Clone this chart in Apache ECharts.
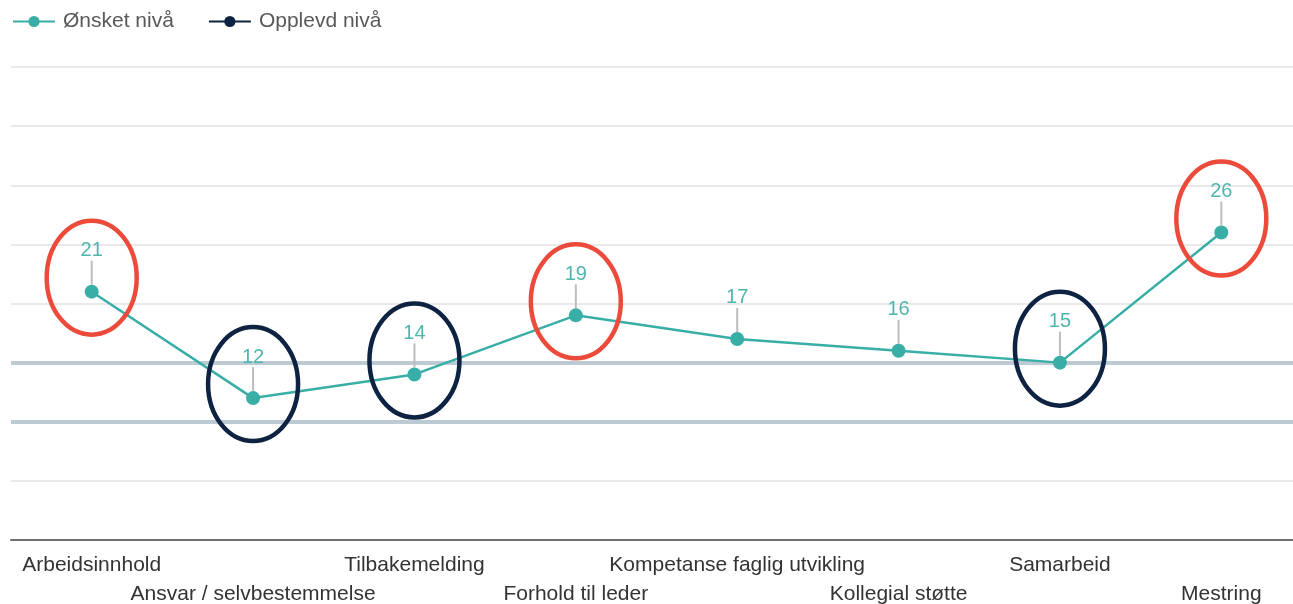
<!DOCTYPE html>
<html>
<head>
<meta charset="utf-8">
<script src="https://cdn.jsdelivr.net/npm/echarts@6/dist/echarts.min.js"></script>
<style>
html,body{margin:0;padding:0;background:#fff;}
#chart{width:1293px;height:604px;}
</style>
</head>
<body>
<div id="chart"></div>
<script>
var categories = ['Arbeidsinnhold','Ansvar / selvbestemmelse','Tilbakemelding','Forhold til leder','Kompetanse faglig utvikling','Kollegial støtte','Samarbeid','Mestring'];
var onsketNiva = [21, 12, 14, 19, 17, 16, 15, 26];
var opplevdNiva = [];
var referenceLines = [15, 10];
var circled = ['red','navy','navy','red',null,null,'navy','red'];

var TEAL = '#38aea6';
var LABEL_TEAL = '#4fb6ae';
var NAVY = '#0e2242';
var RED = '#ec4b3c';

var chart = echarts.init(document.getElementById('chart'));
chart.setOption({
  animation: false,
  textStyle: {fontFamily: 'Liberation Sans, Arial, sans-serif'},
  legend: {
    left: 7, top: 6,
    itemWidth: 42, itemHeight: 14, itemGap: 34,
    data: ['Ønsket nivå','Opplevd nivå'],
    textStyle: {fontSize: 21, color: '#595959', fontFamily: 'Liberation Sans, Arial, sans-serif', padding: [0,0,0,3]}
  },
  grid: {left: 11, width: 1291, top: 67, bottom: 64, outerBoundsMode: 'none', containLabel: false},
  xAxis: {
    type: 'category',
    data: categories,
    boundaryGap: true,
    axisLine: {lineStyle: {color: '#6f6f6f', width: 2}},
    axisTick: {show: false},
    axisLabel: {
      interval: 0,
      margin: 11,
      fontSize: 21,
      lineHeight: 29,
      color: '#333',
      formatter: function (v, i) { return i % 2 === 1 ? '\n' + v : v; }
    }
  },
  yAxis: {
    type: 'value', min: 0, max: 40, interval: 5,
    axisLabel: {show: false},
    axisLine: {show: false},
    axisTick: {show: false},
    splitLine: {lineStyle: {color: '#e9e9e9', width: 2}}
  },
  series: [
    {
      name: 'ref', type: 'line', data: [], z: 1, silent: true,
      markLine: {
        z: 1,
        silent: true, symbol: 'none', label: {show: false},
        lineStyle: {color: '#bccad3', width: 4, type: 'solid'},
        data: referenceLines.map(function (v) { return {yAxis: v}; })
      }
    },
    {
      name: 'Opplevd nivå', type: 'line', data: opplevdNiva, z: 2,
      symbol: 'circle', symbolSize: 14,
      itemStyle: {color: NAVY}, lineStyle: {color: NAVY, width: 2.5}
    },
    {
      name: 'Ønsket nivå', type: 'line', data: onsketNiva, z: 3,
      symbol: 'circle', symbolSize: 14,
      itemStyle: {color: TEAL}, lineStyle: {color: TEAL, width: 2.5},
      label: {show: true, position: 'top', distance: 5, fontSize: 20, color: LABEL_TEAL},
      labelLayout: {dy: -19},
      labelLine: {show: true, lineStyle: {color: '#bdbdbd', width: 2}}
    }
  ]
});

var graphics = [];
onsketNiva.forEach(function (v, i) {
  if (!circled[i]) return;
  var p = chart.convertToPixel({xAxisIndex: 0, yAxisIndex: 0}, [i, v]);
  graphics.push({
    type: 'ellipse', z: 100, silent: true,
    shape: {cx: p[0], cy: p[1] - 14, rx: 45, ry: 57},
    style: {fill: 'none', stroke: circled[i] === 'red' ? RED : NAVY, lineWidth: 4.5}
  });
});
chart.setOption({graphic: graphics});
</script>
</body>
</html>
